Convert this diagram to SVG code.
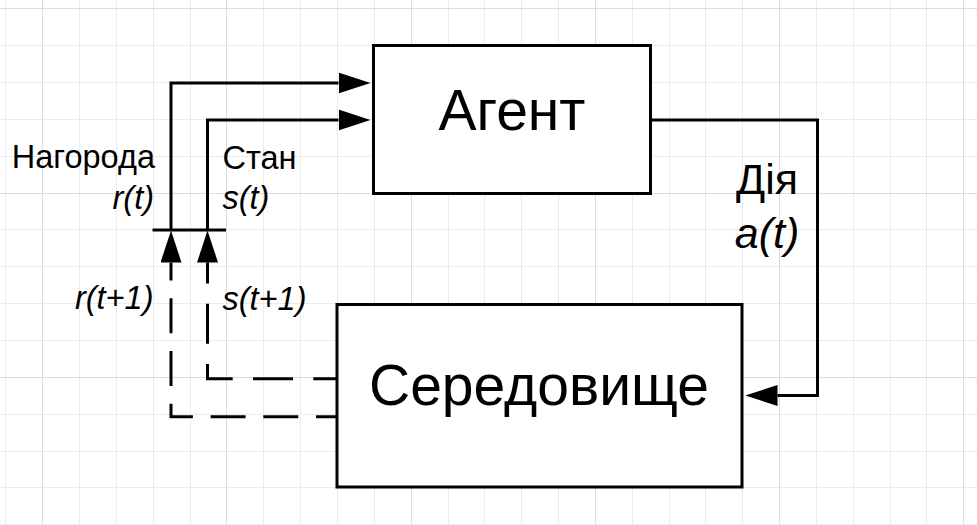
<svg xmlns="http://www.w3.org/2000/svg" width="977" height="525" viewBox="0 0 977 525">
  <style>
    .minor { stroke: #ebebeb; stroke-width: 1; fill: none; }
    .major { stroke: #dcdcdc; stroke-width: 1; fill: none; }
    .box { fill: #ffffff; stroke: #000000; stroke-width: 3; }
    .line { fill: none; stroke: #000000; stroke-width: 3; }
    .big { font-family: "Liberation Sans", Arial, sans-serif; font-size: 57px; fill: #000000; text-anchor: middle; }
    .lbl { font-family: "Liberation Sans", Arial, sans-serif; font-size: 32.5px; fill: #000000; }
    .act { font-family: "Liberation Sans", Arial, sans-serif; font-size: 43px; fill: #000000; text-anchor: middle; }
    .it { font-style: italic; }
    .end { text-anchor: end; }
  </style>
  <defs>
    <marker id="head" viewBox="0 0 32 21" markerWidth="32" markerHeight="21" refX="0" refY="10.5" markerUnits="userSpaceOnUse" orient="auto">
      <path d="M0,0 L32,10.5 L0,21 Z" fill="#000000" stroke="none"/>
    </marker>
  </defs>

  <!-- background grid -->
  <rect width="977" height="525" fill="#ffffff"/>
  <g id="grid">
    <path class="minor" d="M5.5,0V525 M79.5,0V525 M116.5,0V525 M153.5,0V525 M190.5,0V525 M263.5,0V525 M300.5,0V525 M337.5,0V525 M374.5,0V525 M448.5,0V525 M484.5,0V525 M521.5,0V525 M558.5,0V525 M632.5,0V525 M669.5,0V525 M705.5,0V525 M742.5,0V525 M816.5,0V525 M853.5,0V525 M890.5,0V525 M926.5,0V525 M0,45.5H977 M0,82.5H977 M0,119.5H977 M0,156.5H977 M0,229.5H977 M0,266.5H977 M0,303.5H977 M0,340.5H977 M0,414.5H977 M0,451.5H977 M0,487.5H977 M0,524.5H977"/>
    <path class="major" d="M42.5,0V525 M226.5,0V525 M411.5,0V525 M595.5,0V525 M779.5,0V525 M963.5,0V525 M0,8.5H977 M0,193.5H977 M0,377.5H977"/>
  </g>

  <!-- connectors -->
  <g id="connectors">
    <!-- reward r(t) and state s(t) into the agent -->
    <path class="line" d="M171,230 V83 H338.5" marker-end="url(#head)"/>
    <path class="line" d="M207.5,230 V120 H338.5" marker-end="url(#head)"/>
    <!-- time-step bar -->
    <path class="line" d="M152.5,230 H226"/>
    <!-- next reward / next state from the environment -->
    <path class="line" d="M337,416.8 H171 V262.5" stroke-dasharray="35 17.7" stroke-dashoffset="14" marker-end="url(#head)"/>
    <path class="line" d="M337,378.8 H207.5 V262.5" stroke-dasharray="40 20.3" stroke-dashoffset="16.3" marker-end="url(#head)"/>
    <!-- action a(t) into the environment -->
    <path class="line" d="M650.5,120 H817.5 V395.5 H777.5" marker-end="url(#head)"/>
  </g>

  <g id="agent">
    <rect class="box" x="373.5" y="45.5" width="277" height="148"/>
    <text class="big" x="512" y="129.5">Агент</text>
  </g>

  <g id="environment">
    <rect class="box" x="337" y="304.5" width="405" height="182.5"/>
    <text class="big" x="539" y="405">Середовище</text>
  </g>

  <g id="labels">
    <text class="lbl end" x="155" y="167.5">Нагорода</text>
    <text class="lbl it end" x="154" y="208.5">r(t)</text>
    <text class="lbl" x="222.5" y="168.5">Стан</text>
    <text class="lbl it" x="222.5" y="208.5">s(t)</text>
    <text class="lbl it end" x="153.5" y="309">r(t+1)</text>
    <text class="lbl it" x="222.5" y="309.5">s(t+1)</text>
    <text class="act" x="767" y="193.5">Дія</text>
    <text class="act it" x="767" y="248">a(t)</text>
  </g>
</svg>
